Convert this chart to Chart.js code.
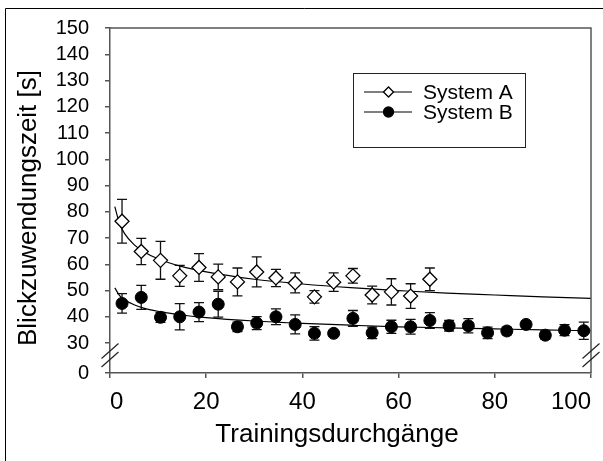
<!DOCTYPE html>
<html><head><meta charset="utf-8">
<script src="https://cdn.jsdelivr.net/npm/chart.js@4/dist/chart.umd.min.js"></script>
<style>html,body{margin:0;padding:0;background:#fff}#wrap{position:relative;width:603px;height:461px}</style>
</head><body><div id="wrap"><canvas id="c" width="603" height="461"></canvas></div>
<script>
// ---- data ----
const trialsA = [2.5,6.5,10.5,14.5,18.5,22.5,26.5,30.5,34.5,38.5,42.5,46.5,50.5,54.5,58.5,62.5,66.5];
const meanA   = [76.4,64.9,61.5,55.6,58.8,55.2,53.3,57.1,54.8,52.9,47.6,53.2,55.6,48.3,49.5,47.9,54.3];
const errA    = [8.3,5.0,7.2,4.0,5.3,4.9,5.3,5.7,3.3,3.8,2.4,3.5,2.8,3.4,5.0,4.7,4.3];
const trialsB = [2.5,6.5,10.5,14.5,18.5,22.5,26.5,30.5,34.5,38.5,42.5,46.5,50.5,54.5,58.5,62.5,66.5,70.5,74.5,78.5,82.5,86.5,90.5,94.5,98.5];
const meanB   = [45.1,47.4,39.8,40.0,41.8,44.8,36.2,37.6,40.0,37.1,33.7,33.7,39.4,33.9,36.2,36.2,38.6,36.6,36.6,33.9,34.6,37.1,33.0,34.9,34.7];
const errB    = [3.7,4.6,1.9,5.0,3.6,4.9,1.8,2.5,3.0,3.6,2.6,0.8,3.0,2.2,2.5,2.8,3.0,2.0,2.7,2.2,1.5,0.8,1.6,2.1,3.3];
const fitX    = [1,2,3,5,7,10,15,20,30,40,50,60,70,80,90,100];
const fitA    = [82.0,75.4,71.8,67.5,64.8,62.1,59.1,57.1,54.3,52.5,51.1,50.0,49.0,48.3,47.6,47.0];
const fitB    = [51.0,48.1,46.5,44.6,43.3,42.1,40.7,39.7,38.4,37.5,36.8,36.2,35.8,35.4,35.0,34.7];
const seriesNames = ['System A','System B'];
const xTitle = 'Trainingsdurchgänge';
const yTitle = 'Blickzuwendungszeit [s]';
const xTickValues = [0,20,40,60,80,100];
const yTickValues = [0,30,40,50,60,70,80,90,100,110,120,130,140,150];
const yTickLabels = ['0','30','40','50','60','70','80','90','100','110','120','130','140','150'];

// ---- axis break: 0 is shown just below 30 ----
const BREAK_FLOOR = 18.6;
const FONT = '"Liberation Sans", Arial, Helvetica, sans-serif';
const AXIS = '#555';

const pts = (xs, ys) => xs.map((v, i) => ({x: v, y: ys[i]}));

const decor = {
  id: 'decor',
  beforeDatasetsDraw(chart) {
    const {ctx, scales: {x, y}} = chart;
    ctx.save();
    ctx.strokeStyle = '#111';
    ctx.lineWidth = 1.3;
    [[trialsA, meanA, errA], [trialsB, meanB, errB]].forEach(([xs, ms, es]) => {
      ms.forEach((m, i) => {
        const px = x.getPixelForValue(xs[i]);
        const t = y.getPixelForValue(m + es[i]);
        const b = y.getPixelForValue(m - es[i]);
        ctx.beginPath();
        ctx.moveTo(px, t); ctx.lineTo(px, b);
        ctx.moveTo(px - 5, t); ctx.lineTo(px + 5, t);
        ctx.moveTo(px - 5, b); ctx.lineTo(px + 5, b);
        ctx.stroke();
      });
    });
    ctx.restore();
  },
  afterDraw(chart) {
    const {ctx, chartArea: a, scales: {y}} = chart;
    ctx.save();
    // outer figure frame
    ctx.strokeStyle = '#000'; ctx.lineWidth = 1;
    ctx.beginPath();
    ctx.moveTo(5.5, 470); ctx.lineTo(5.5, 8.5); ctx.lineTo(610, 8.5);
    ctx.stroke();
    // top and right border of plot box
    ctx.strokeStyle = AXIS; ctx.lineWidth = 1.5;
    ctx.beginPath();
    ctx.moveTo(a.left, a.top); ctx.lineTo(a.right, a.top); ctx.lineTo(a.right, a.bottom);
    ctx.stroke();
    // break marks
    const mid = (y.getPixelForValue(30) + y.bottom) / 2;
    ctx.strokeStyle = '#222'; ctx.lineWidth = 1.2;
    [a.left, a.right].forEach(cx => {
      [mid - 7, mid + 1.5].forEach(cy => {
        ctx.beginPath();
        ctx.moveTo(cx - 8.5, cy + 7.5); ctx.lineTo(cx + 8.5, cy - 7.5);
        ctx.stroke();
      });
    });
    // axis titles
    ctx.fillStyle = '#000';
    ctx.font = '26px ' + FONT;
    ctx.textAlign = 'center';
    ctx.textBaseline = 'alphabetic';
    ctx.fillText(xTitle, 337, 442);
    ctx.save();
    ctx.translate(36, 208);
    ctx.rotate(-Math.PI / 2);
    ctx.fillText(yTitle, 0, 0);
    ctx.restore();
    // legend
    ctx.textAlign = 'left';
    ctx.strokeStyle = '#222'; ctx.lineWidth = 1;
    ctx.strokeRect(353.5, 73.5, 172, 74);
    ctx.font = '21px ' + FONT;
    ctx.textBaseline = 'middle';
    [[92, 0], [112, 1]].forEach(([ly, di]) => {
      const ds = chart.data.datasets[di];
      ctx.strokeStyle = '#000'; ctx.lineWidth = 1.2;
      ctx.beginPath(); ctx.moveTo(364, ly); ctx.lineTo(412, ly); ctx.stroke();
      ctx.lineWidth = 1.3;
      ctx.fillStyle = ds.backgroundColor; ctx.strokeStyle = ds.borderColor;
      Chart.helpers.drawPoint(ctx, {pointStyle: ds.pointStyle, radius: 5, borderWidth: 1.3}, 388.5, ly);
      ctx.fillStyle = '#000';
      ctx.fillText(ds.label, 423, ly + 1);
    });
    ctx.restore();
  }
};

new Chart(document.getElementById('c'), {
  type: 'scatter',
  data: {
    datasets: [
      {label: seriesNames[0], data: pts(trialsA, meanA), pointStyle: 'rectRot', pointRadius: 7,
       backgroundColor: '#fff', borderColor: '#000', borderWidth: 1.3, showLine: false, order: 1},
      {label: seriesNames[1], data: pts(trialsB, meanB), pointStyle: 'circle', pointRadius: 6,
       backgroundColor: '#000', borderColor: '#000', borderWidth: 1, showLine: false, order: 1},
      {label: 'fitA', data: pts(fitX, fitA), showLine: true, pointRadius: 0, borderColor: '#000',
       borderWidth: 1.2, cubicInterpolationMode: 'monotone', order: 3},
      {label: 'fitB', data: pts(fitX, fitB), showLine: true, pointRadius: 0, borderColor: '#000',
       borderWidth: 1.2, cubicInterpolationMode: 'monotone', order: 3}
    ]
  },
  options: {
    responsive: false, animation: false, devicePixelRatio: 1,
    layout: {padding: {left: 6, right: 12, top: 27, bottom: 0}},
    plugins: {legend: {display: false}, tooltip: {enabled: false}},
    scales: {
      x: {
        type: 'linear', min: 0, max: 100,
        afterBuildTicks: s => { s.ticks = xTickValues.map(v => ({value: v})); },
        afterFit: s => { s.height = 88; s.paddingLeft = 0; s.paddingRight = 0; },
        ticks: {color: '#000', font: {family: FONT, size: 24}, padding: 10, align: 'inner',
                maxRotation: 0, autoSkip: false},
        grid: {drawOnChartArea: false, drawTicks: true, tickLength: 5, color: AXIS, lineWidth: 1.5},
        border: {display: true, color: AXIS, width: 1.5},
        title: {display: false}
      },
      y: {
        type: 'linear', min: BREAK_FLOOR, max: 150,
        afterBuildTicks: s => { s.ticks = yTickValues.map(v => ({value: v === 0 ? BREAK_FLOOR : v})); },
        afterFit: s => { s.width = 104; },
        ticks: {color: '#000', font: {family: FONT, size: 20}, padding: 16, autoSkip: false,
                callback: (v, i) => yTickLabels[i]},
        grid: {drawOnChartArea: false, drawTicks: true, tickLength: 5, color: AXIS, lineWidth: 1.5},
        border: {display: true, color: AXIS, width: 1.5},
        title: {display: false}
      }
    }
  },
  plugins: [decor]
});
</script></body></html>
